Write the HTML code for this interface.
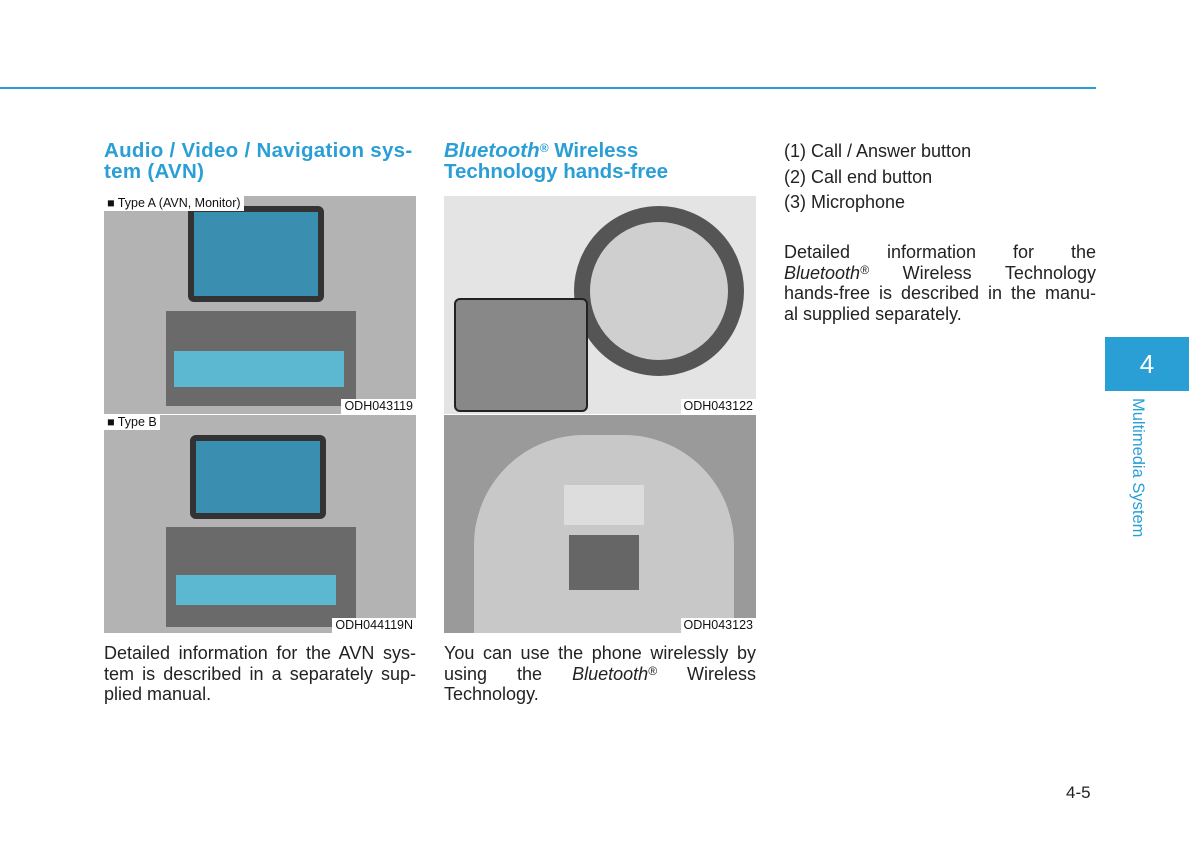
<!DOCTYPE html>
<html><head><meta charset="utf-8"><style>
*{margin:0;padding:0}
body{width:1200px;height:861px;background:#fff;position:relative;font-family:"Liberation Sans",sans-serif;overflow:hidden}
.a{position:absolute}
h2{position:absolute;color:#2a9fd6;font-size:20.5px;font-weight:bold;line-height:21px;white-space:nowrap}
sup{font-size:12px;line-height:0;vertical-align:5px}
.t{position:absolute;font-size:18px;line-height:20.5px;color:#222}
.j{text-align:justify;text-align-last:justify;white-space:nowrap}
.img{position:absolute;background:#a8a8a8;overflow:hidden}
.lab{position:absolute;background:#fff;font-size:12.5px;padding:0 3px;line-height:15px;color:#111}
.scr{position:absolute;background:#3a8fb0;border:6px solid #333;border-radius:6px}
.pan{position:absolute;background:#777}
.cd{position:absolute;background:#5bb8d0}
</style></head><body>
<div class="a" style="left:0;top:87px;width:1096px;height:2px;background:#2a9fd6"></div>
<h2 style="left:104px;top:140px;letter-spacing:0.3px">Audio / Video / Navigation sys-<br>tem (AVN)</h2>
<h2 style="left:444px;top:140px"><i>Bluetooth<sup>®</sup></i> Wireless<br>Technology hands-free</h2>
<div class="t" style="left:784px;top:139px;line-height:25.5px">(1) Call / Answer button<br>(2) Call end button<br>(3) Microphone</div>
<div class="t" style="left:784px;top:242px;width:312px">
<div class="j">Detailed information for the</div>
<div class="j"><i>Bluetooth<sup>®</sup></i> Wireless Technology</div>
<div class="j">hands-free is described in the manu-</div>
<div>al supplied separately.</div></div>

<div class="img" style="left:104px;top:196px;width:312px;height:218px;background:#b3b3b3">
<div class="scr" style="left:84px;top:10px;width:124px;height:84px"></div>
<div class="pan" style="left:62px;top:115px;width:190px;height:95px;background:#6a6a6a"></div>
<div class="cd" style="left:70px;top:155px;width:170px;height:36px"></div>
<div class="lab" style="left:0;top:0">■ Type A (AVN, Monitor)</div>
<div class="lab" style="right:0;bottom:0">ODH043119</div></div>
<div class="img" style="left:104px;top:414px;width:312px;height:218px;background:#b3b3b3;border-top:1px solid #fff">
<div class="scr" style="left:86px;top:20px;width:124px;height:72px"></div>
<div class="pan" style="left:62px;top:112px;width:190px;height:100px;background:#6a6a6a"></div>
<div class="cd" style="left:72px;top:160px;width:160px;height:30px"></div>
<div class="lab" style="left:0;top:0">■ Type B</div>
<div class="lab" style="right:0;bottom:0">ODH044119N</div></div>

<div class="img" style="left:444px;top:196px;width:312px;height:218px;background:#e4e4e4">
<div class="a" style="left:130px;top:10px;width:170px;height:170px;border-radius:50%;border:16px solid #555;box-sizing:border-box;background:#cfcfcf"></div>
<div class="a" style="left:10px;top:102px;width:130px;height:110px;background:#888;border:2px solid #222;border-radius:6px"></div>
<div class="lab" style="right:0;bottom:0">ODH043122</div></div>
<div class="img" style="left:444px;top:414px;width:312px;height:218px;background:#9a9a9a;border-top:1px solid #fff">
<div class="a" style="left:30px;top:20px;width:260px;height:200px;border-radius:110px 110px 0 0;background:#c8c8c8"></div>
<div class="a" style="left:120px;top:70px;width:80px;height:40px;background:#ddd"></div>
<div class="a" style="left:125px;top:120px;width:70px;height:55px;background:#666"></div>
<div class="lab" style="right:0;bottom:0">ODH043123</div></div>

<div class="t" style="left:104px;top:643px;width:312px">
<div class="j">Detailed information for the AVN sys-</div>
<div class="j">tem is described in a separately sup-</div>
<div>plied manual.</div></div>
<div class="t" style="left:444px;top:643px;width:312px">
<div class="j">You can use the phone wirelessly by</div>
<div class="j">using the <i>Bluetooth<sup>®</sup></i> Wireless</div>
<div>Technology.</div></div>

<div class="a" style="left:1105px;top:337px;width:84px;height:54px;background:#2a9fd6;color:#fff;font-size:26px;text-align:center;line-height:54px">4</div>
<div class="a" style="left:1128px;top:398px;color:#2a9fd6;font-size:16.5px;writing-mode:vertical-rl;white-space:nowrap">Multimedia System</div>
<div class="a" style="left:1066px;top:783px;font-size:17px;color:#222">4-5</div>
</body></html>
